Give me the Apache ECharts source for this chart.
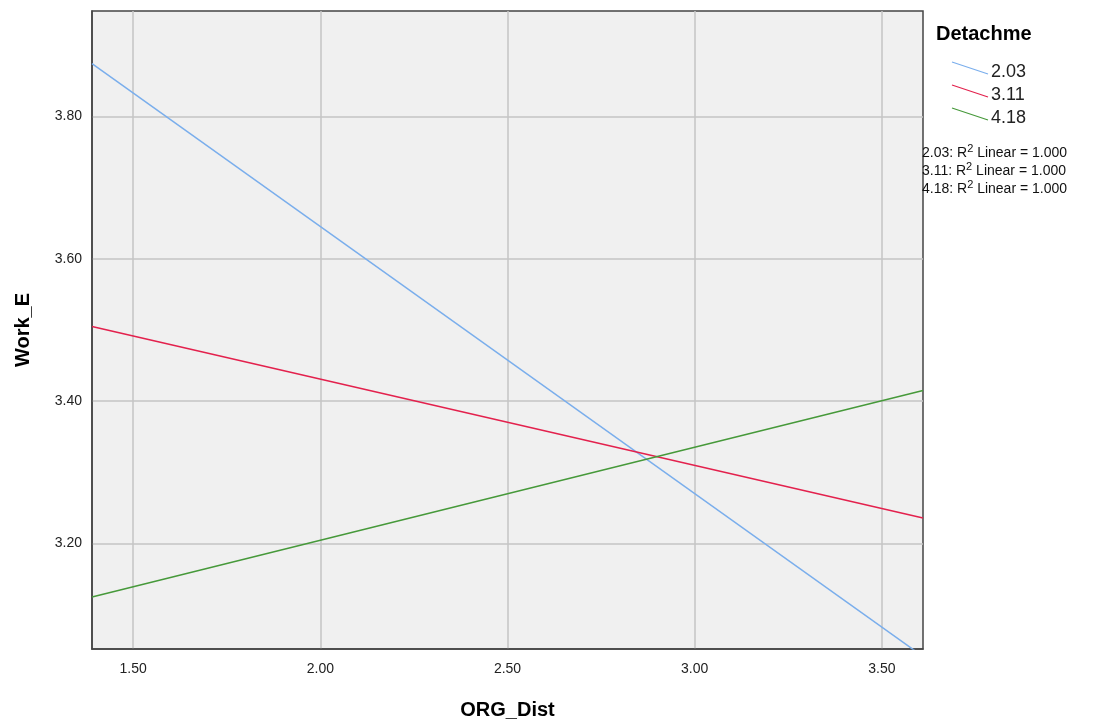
<!DOCTYPE html>
<html><head><meta charset="utf-8">
<script src="https://cdn.jsdelivr.net/npm/echarts@6/dist/echarts.min.js"></script>
<style>html,body{margin:0;padding:0;background:#fff}#c{width:1093px;height:725px}</style>
</head><body><div id="c"></div>
<script>
const seriesNames = ['2.03', '3.11', '4.18'];
const seriesColors = ['#7aaeec', '#e3214d', '#46993a'];
const xPoints = [1.39, 3.61];
const blueVals = [3.874, 3.0415];
const redVals = [3.505, 3.236];
const greenVals = [3.125, 3.415];
const xTicks = [1.5, 2.0, 2.5, 3.0, 3.5];
const yTicks = [3.2, 3.4, 3.6, 3.8];
const rSquared = ['1.000', '1.000', '1.000'];
const allVals = [blueVals, redVals, greenVals];

const font = 'Arial, "Liberation Sans", sans-serif';
const chart = echarts.init(document.getElementById('c'));

const legendGraphics = [
  {type:'text', left: 936, top: 24, style:{text:'Detachme', font:'bold 20px ' + font, fill:'#000'}}
];
seriesNames.forEach((n, i) => {
  const y = 62 + i * 23;
  legendGraphics.push({type:'line', shape:{x1:952, y1:y, x2:988, y2:y+12}, style:{stroke:seriesColors[i], lineWidth:1.2}});
  legendGraphics.push({type:'text', left: 991, top: y + 1, style:{text:n, font:'18px ' + font, fill:'#222'}});
  legendGraphics.push({type:'text', left: 922, top: 143 + i*18, style:{
    text:'{a|' + n + ': R}{s|2}{a| Linear = ' + rSquared[i] + '}',
    rich:{a:{font:'14px ' + font, fill:'#111', verticalAlign:'bottom'}, s:{font:'11px ' + font, fill:'#111', verticalAlign:'top', padding:[0,0,6,0]}}
  }});
});

chart.setOption({
  backgroundColor:'#fff',
  animation:false,
  grid:{left:92, right:170, top:11, bottom:73, show:true, backgroundColor:'#f0f0f0', borderColor:'#444', borderWidth:1.5},
  xAxis:{
    type:'value', min:1.39, max:3.61,
    name:'ORG_Dist', nameLocation:'middle', nameGap:51,
    nameTextStyle:{fontSize:20, fontWeight:'bold', color:'#000', fontFamily:font},
    axisLine:{show:true, lineStyle:{color:'#444', width:1.5}},
    axisTick:{show:false, customValues:xTicks},
    axisLabel:{customValues:xTicks, formatter:v=>v.toFixed(2), fontSize:14, color:'#222', fontFamily:font, margin:13},
    splitLine:{show:true, lineStyle:{color:'#c4c4c4', width:1.5}}
  },
  yAxis:{
    type:'value', min:3.052, max:3.948,
    name:'Work_E', nameLocation:'middle', nameGap:59,
    nameTextStyle:{fontSize:20, fontWeight:'bold', color:'#000', fontFamily:font},
    axisLine:{show:true, lineStyle:{color:'#444', width:1.5}},
    axisTick:{show:false, customValues:yTicks},
    axisLabel:{customValues:yTicks, formatter:v=>v.toFixed(2), fontSize:14, color:'#222', fontFamily:font, margin:10},
    splitLine:{show:true, lineStyle:{color:'#c4c4c4', width:1.5}}
  },
  graphic: legendGraphics,
  series: seriesNames.map((n, i) => ({
    name:n, type:'line', clip:true, symbol:'none',
    data: xPoints.map((x, j) => [x, allVals[i][j]]),
    lineStyle:{color:seriesColors[i], width:1.5}
  }))
});
</script></body></html>
